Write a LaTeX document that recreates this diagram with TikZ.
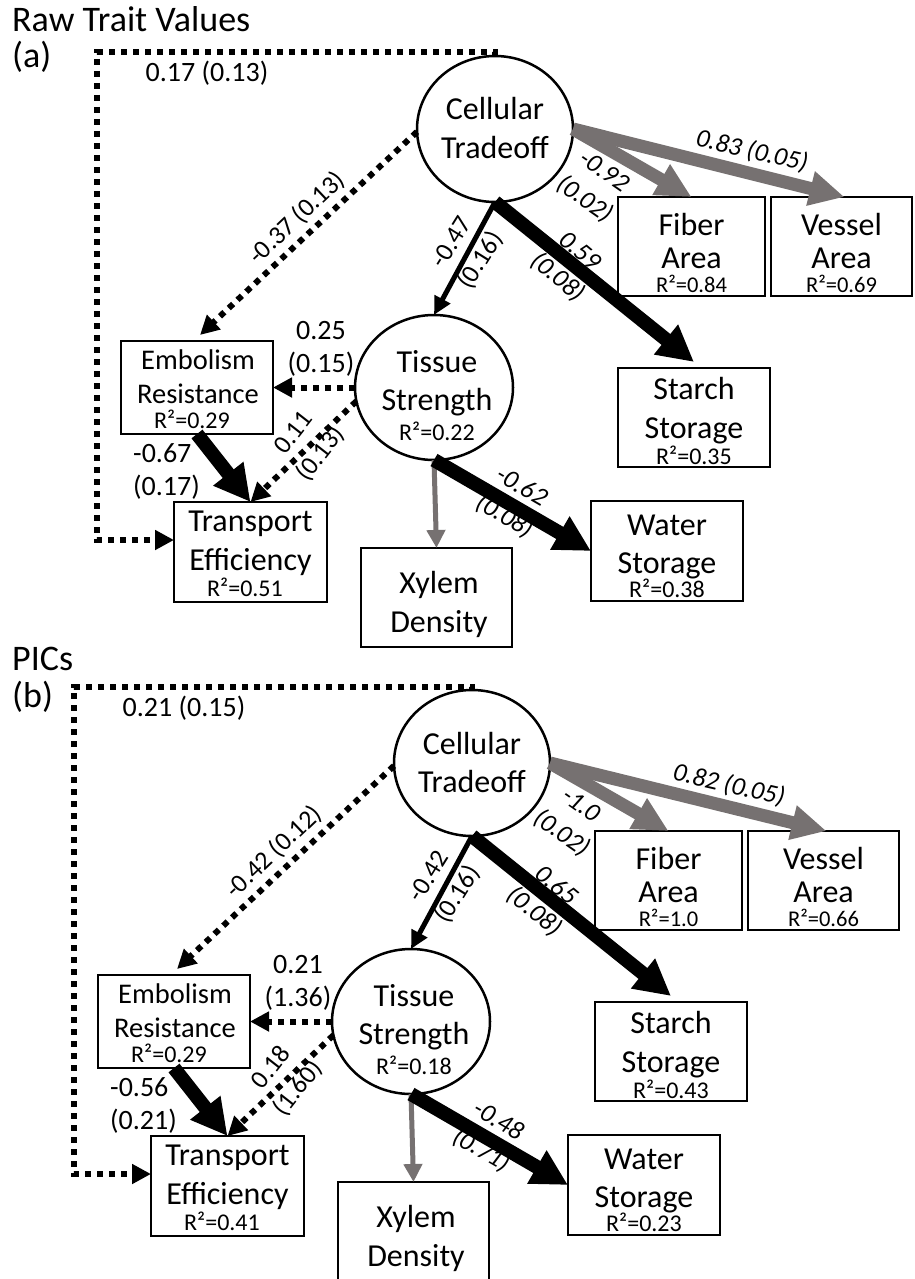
\documentclass[tikz,border=0pt]{standalone}
\usepackage{fontspec}
\setmainfont{Carlito}
\usetikzlibrary{arrows.meta,shapes.geometric,calc}
\definecolor{arrgray}{RGB}{118,113,113}
\tikzset{
  ell/.style={ellipse, draw, line width=2.5pt, inner sep=0pt, outer sep=0pt},
  bx/.style={rectangle, draw, line width=2pt, inner sep=0pt, outer sep=0pt},
  tx/.style={inner sep=0pt, anchor=base, font=\fontsize{32}{32}\selectfont},
  txs/.style={inner sep=0pt, anchor=base, font=\fontsize{28.5}{28.5}\selectfont},
  rsq/.style={inner sep=0pt, anchor=base, font=\fontsize{24}{24}\selectfont},
  rsqs/.style={inner sep=0pt, anchor=base, font=\fontsize{22.5}{22.5}\selectfont},
  lab/.style={inner sep=0pt, align=center, font=\fontsize{28}{33}\selectfont},
  labr/.style={inner sep=0pt, align=center, font=\fontsize{26}{34}\selectfont},
  labri/.style={labr, font=\fontsize{26}{34}\selectfont\itshape},
  ttl/.style={inner sep=0pt, anchor=base west, font=\fontsize{36}{36}\selectfont},
  thinblk/.style={line width=5pt, -{Triangle[length=18pt,width=17pt]}},
  thickblk/.style={line width=14pt, -{Triangle[length=36pt,width=36pt]}},
  thickgry/.style={color=arrgray, line width=13pt, -{Triangle[length=35pt,width=33pt]}},
  thingry/.style={color=arrgray, line width=5pt, -{Triangle[length=18pt,width=18pt]}},
  dots/.style={line width=6pt, dash pattern=on 6pt off 6pt, -{Triangle[length=19pt,width=19pt]}},
}
\newcommand\drawpanel[1]{%
  % shapes
  \node[ell, minimum width=156pt, minimum height=146pt] (#1ct) at (495,129) {};
  \node[ell, minimum width=158pt, minimum height=145pt] (#1ts) at (434,387.5) {};
  \node[bx, minimum width=147pt, minimum height=99pt] (#1fib) at (691.5,246.5) {};
  \node[bx, minimum width=\Vw, minimum height=99pt] (#1ves) at (\Vc,246.5) {};
  \node[bx, minimum width=152pt, minimum height=99pt] (#1st) at (694,417.5) {};
  \node[bx, minimum width=152pt, minimum height=100pt] (#1wa) at (667,551) {};
  \node[bx, minimum width=152pt, minimum height=93pt] (#1emb) at (197,387.5) {};
  \node[bx, minimum width=153pt, minimum height=100pt] (#1tr) at (250.5,552) {};
  \node[bx, minimum width=151pt, minimum height=99pt] (#1xy) at (436.5,597.5) {};
  % texts
  \node[tx] (#1ct1) at (495,120) {Cellular};
  \node[tx] (#1ct2) at (495,158) {Tradeoff};
  \node[tx] (#1ts1) at (437,372) {Tissue};
  \node[tx] (#1ts2) at (437,410) {Strength};
  \node[rsq] (#1ts3) at (437,440) {R²=\Rts};
  \node[tx] (#1fib1) at (691.5,235) {Fiber};
  \node[tx] (#1fib2) at (691.5,268) {Area};
  \node[rsqs] (#1fib3) at (691.5,292) {R²=\Rfib};
  \node[tx] (#1ves1) at (\Vc,235) {Vessel};
  \node[tx] (#1ves2) at (\Vc,268) {Area};
  \node[rsqs] (#1ves3) at (\Vc,292) {R²=\Rves};
  \node[tx] (#1st1) at (694,399) {Starch};
  \node[tx] (#1st2) at (694,438) {Storage};
  \node[rsq] (#1st3) at (694,464) {R²=\Rst};
  \node[tx] (#1wa1) at (667,535) {Water};
  \node[tx] (#1wa2) at (667,573) {Storage};
  \node[rsq] (#1wa3) at (667,597) {R²=\Rwa};
  \node[txs] (#1emb1) at (198,369) {Embolism};
  \node[txs] (#1emb2) at (198,403) {Resistance};
  \node[rsq] (#1emb3) at (192,428) {R²=\Remb};
  \node[tx] (#1tr1) at (250.5,531) {Transport};
  \node[tx] (#1tr2) at (250.5,570) {Efficiency};
  \node[rsq] (#1tr3) at (245,596) {R²=\Rtr};
  \node[tx] (#1xy1) at (439,593) {Xylem};
  \node[tx] (#1xy2) at (439,632) {Density};
  % path labels
  \node[lab, anchor=base] (#1l1) at (207,82) {\Lloop};
  \node[labr, rotate=43.5] (#1l2) at (297,218) {\Lce};
  \node[labri, rotate=-35] (#1l3) at (594,186) {\Lcf};
  \node[labri, rotate=-13] (#1l4) at (752,151) {\Lcv};
  \node[labr, rotate=58] (#1l5) at (467,252) {\Lct};
  \node[labri, rotate=-40] (#1l6) at (568,265) {\Lcs};
  \node[lab] (#1l7) at (321,349) {\Lte};
  \node[lab, align=left, anchor=west] (#1l8) at (133,471) {\Let};
  \node[labr, rotate=52] (#1l9) at (308,444) {\Ltt};
  \node[labri, rotate=-30] (#1l10) at (513,502) {\Ltw};
  % connectors
  \draw[dots] (#1ct.north) -- (495,52.5) -- (97,52.5) -- (97,540) -- ([yshift=12pt]#1tr.west);
  \draw[dots] (#1ct.182) -- ([shift={(3pt,6pt)}]#1emb.north);
  \draw[dots] (#1ts.west) -- (#1emb.east);
  \draw[dots] (#1ts.190) -- (#1tr.north);
  \draw[thickgry] (#1ct.east) -- (#1fib.north);
  \draw[thickgry] (#1ct.east) -- ([xshift=3pt]#1ves.north);
  \draw[thinblk] (#1ct.south) -- (#1ts.north);
  \draw[thickblk] (#1ct.south) -- ([yshift=6pt]#1st.north);
  \draw[thickblk] (#1emb.south) -- (#1tr.north);
  \draw[thingry] (#1ts.south) -- (#1xy.north);
  \draw[thickblk] (#1ts.south) -- (#1wa.west);
}
\begin{document}
\begin{tikzpicture}[x=1pt,y=-1pt]
\clip (0,0) rectangle (914,1279);
\fill[white] (0,0) rectangle (914,1279);
% titles
\node[ttl] (ta) at (12,32) {Raw Trait Values};
\node[ttl] (tal) at (12,68) {(a)};
\node[ttl] (tb) at (12,670) {PICs};
\node[ttl] (tbl) at (12,707) {(b)};
% panel a
\def\Vw{141pt}\def\Vc{841.5}
\def\Rts{0.22}\def\Rfib{0.84}\def\Rves{0.69}\def\Rst{0.35}\def\Rwa{0.38}\def\Remb{0.29}\def\Rtr{0.51}
\def\Lloop{0.17 (0.13)}\def\Lce{-0.37 (0.13)}\def\Lcf{-0.92\\(0.02)}\def\Lcv{0.83 (0.05)}
\def\Lct{-0.47\\(0.16)}\def\Lcs{0.59\\(0.08)}\def\Lte{0.25\\(0.15)}\def\Let{-0.67\\(0.17)}
\def\Ltt{0.11\\(0.13)}\def\Ltw{-0.62\\(0.08)}
\drawpanel{a}
% panel b
\begin{scope}[shift={(-23,634)}]
\def\Vw{151pt}\def\Vc{846.5}
\def\Rts{0.18}\def\Rfib{1.0}\def\Rves{0.66}\def\Rst{0.43}\def\Rwa{0.23}\def\Remb{0.29}\def\Rtr{0.41}
\def\Lloop{0.21 (0.15)}\def\Lce{-0.42 (0.12)}\def\Lcf{-1.0\\(0.02)}\def\Lcv{0.82 (0.05)}
\def\Lct{-0.42\\(0.16)}\def\Lcs{0.65\\(0.08)}\def\Lte{0.21\\(1.36)}\def\Let{-0.56\\(0.21)}
\def\Ltt{0.18\\(1.60)}\def\Ltw{-0.48\\(0.71)}
\drawpanel{b}
\end{scope}
\end{tikzpicture}
\end{document}
